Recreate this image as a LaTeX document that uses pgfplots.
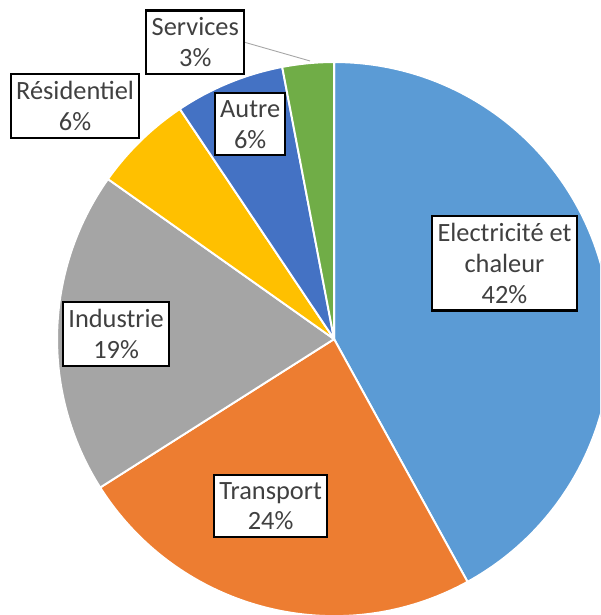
\documentclass[border=0pt]{standalone}
\usepackage{fontspec}
\setmainfont{Carlito}
\usepackage{pgfplots}
\usepackage{pgfplotstable}
\pgfplotsset{compat=1.18}

\definecolor{elec}{HTML}{5B9BD5}
\definecolor{trans}{HTML}{ED7D31}
\definecolor{indu}{HTML}{A5A5A5}
\definecolor{resi}{HTML}{FFC000}
\definecolor{autre}{HTML}{4472C4}
\definecolor{serv}{HTML}{70AD47}
\definecolor{txt}{HTML}{404040}

% shares in percent, clockwise from 12 o'clock
\pgfplotstableread{
value col
42   elec
24   trans
18.8 indu
5.8  resi
6.4  autre
3.0  serv
}\piedata

\newlength\R
\setlength\R{5.54cm}

\begin{document}
\begin{tikzpicture}
\begin{axis}[hide axis,x=5.54cm,y=5.54cm,
xmin=-1.206,xmax=0.960,ymin=-0.996,ymax=1.224,
clip=true]
\pgfplotsextra{
  \xdef\startang{90}
  \pgfplotsforeachungrouped \i in {0,...,5}{
    \pgfplotstablegetelem{\i}{value}\of\piedata \let\v=\pgfplotsretval
    \pgfplotstablegetelem{\i}{col}\of\piedata \let\c=\pgfplotsretval
    \pgfmathsetmacro\endang{\startang-3.6*\v}
    \fill[fill=\c,draw=white,line width=1.1pt,line join=round]
      (axis cs:0,0) -- ++(\startang:\R)
      arc[start angle=\startang,end angle=\endang,radius=\R] -- cycle;
    \xdef\startang{\endang}
  }
}
% leader line of the Services label
\addplot[gray!70,line width=0.5pt] coordinates {(-0.325,1.072) (-0.087,1.004)};
% data labels
\addplot[only marks,mark=none,point meta=explicit symbolic,
nodes near coords,
nodes near coords align={center},
every node near coord/.append style={anchor=center,draw=black,line width=1.2pt,
  fill=white,align=center,text=txt,inner xsep=3pt,inner ysep=4pt,
  font=\fontsize{15}{17.5}\selectfont}]
coordinates {
(-0.501,1.072) [Services\\3\%]
(-0.303,0.775) [Autre\\6\%]
(-0.935,0.841) [Résidentiel\\6\%]
(0.615,0.273) [Electricité et\\chaleur\\42\%]
(-0.787,0.018) [Industrie\\19\%]
(-0.229,-0.603) [Transport\\24\%]
};
\end{axis}
\pgfresetboundingbox
\useasboundingbox (current axis.south west) rectangle (current axis.north east);
\end{tikzpicture}
\end{document}
